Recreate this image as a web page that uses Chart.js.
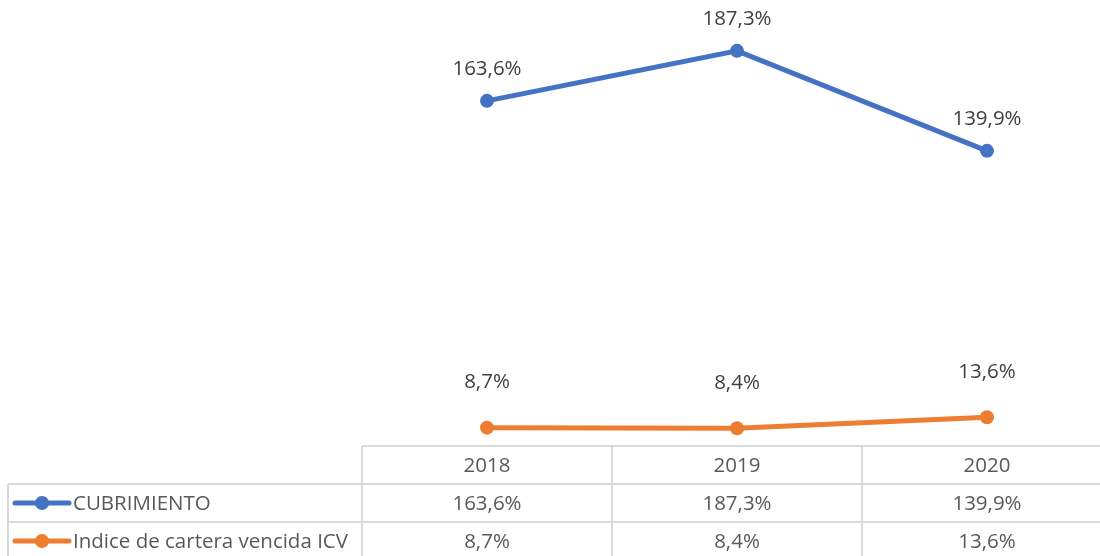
<!DOCTYPE html>
<html>
<head>
<meta charset="utf-8">
<script src="https://cdn.jsdelivr.net/npm/chart.js@4"></script>
<style>
  html, body { margin: 0; padding: 0; background: #fff; overflow: hidden; }
  #wrap { width: 1100px; height: 556px; position: relative; overflow: hidden; }
  #chart { position: absolute; left: 0; top: -8px; }
</style>
</head>
<body>
<div id="wrap"><canvas id="chart" width="1120" height="564"></canvas></div>
<script>
const years = ['2018', '2019', '2020'];
const cubrimiento = [163.6, 187.3, 139.9];
const icv = [8.7, 8.4, 13.6];
const seriesNames = ['CUBRIMIENTO', 'Indice de cartera vencida ICV'];

function fmt(v) {
    return v.toFixed(1).replace('.', ',') + '%';
}

// data labels above points + data table under the plot
const tablePlugin = {
    id: 'tablePlugin',
    afterDatasetsDraw(chart) {
        const ctx = chart.ctx;
        const x = chart.scales.x;
        const area = chart.chartArea;
        ctx.save();
        ctx.font = '20.5px "Open Sans"';
        ctx.textAlign = 'center';
        ctx.textBaseline = 'middle';
        ctx.fillStyle = '#404040';
        chart.data.datasets.forEach((ds, i) => {
            const meta = chart.getDatasetMeta(i);
            meta.data.forEach((pt, j) => {
                ctx.fillText(fmt(ds.data[j]), pt.x, pt.y - ds.labelOffset);
            });
        });

        // table
        const top = area.bottom;
        const rowH = 38;
        const colW = x.getPixelForValue(1) - x.getPixelForValue(0);
        const left = x.getPixelForValue(0) - colW / 2;
        const right = x.getPixelForValue(2) + colW / 2;
        const tableLeft = 8;
        ctx.strokeStyle = '#d9d9d9';
        ctx.lineWidth = 2;
        ctx.beginPath();
        ctx.moveTo(left, top); ctx.lineTo(right, top);
        for (let r = 1; r <= 3; r++) {
            ctx.moveTo(tableLeft, top + rowH * r); ctx.lineTo(right, top + rowH * r);
        }
        for (let c = 0; c <= 3; c++) {
            ctx.moveTo(left + colW * c, top); ctx.lineTo(left + colW * c, top + rowH * 3);
        }
        ctx.moveTo(tableLeft, top + rowH); ctx.lineTo(tableLeft, top + rowH * 3);
        ctx.stroke();

        ctx.fillStyle = '#595959';
        years.forEach((y, j) => {
            ctx.fillText(y, x.getPixelForValue(j), top + rowH / 2 + 1);
        });
        chart.data.datasets.forEach((ds, i) => {
            const cy = top + rowH * (i + 1) + rowH / 2 + 1;
            ds.data.forEach((v, j) => {
                ctx.fillStyle = '#595959';
                ctx.textAlign = 'center';
                ctx.fillText(fmt(v), x.getPixelForValue(j), cy);
            });
            // legend key
            ctx.strokeStyle = ds.borderColor;
            ctx.lineWidth = 5;
            ctx.lineCap = 'round';
            ctx.beginPath();
            ctx.moveTo(15, cy - 1); ctx.lineTo(69, cy - 1);
            ctx.stroke();
            ctx.fillStyle = ds.borderColor;
            ctx.beginPath();
            ctx.arc(42, cy - 1, 7, 0, Math.PI * 2);
            ctx.fill();
            ctx.fillStyle = '#595959';
            ctx.textAlign = 'left';
            ctx.fillText(ds.label, 73, cy);
        });
        ctx.restore();
    }
};

new Chart(document.getElementById('chart').getContext('2d'), {
    type: 'line',
    data: {
        labels: years,
        datasets: [{
            label: seriesNames[0],
            data: cubrimiento,
            borderColor: '#4472C4',
            backgroundColor: '#4472C4',
            borderWidth: 5,
            pointRadius: 7,
            pointBorderWidth: 0,
            labelOffset: 32
        }, {
            label: seriesNames[1],
            data: icv,
            borderColor: '#ED7D31',
            backgroundColor: '#ED7D31',
            borderWidth: 5,
            pointRadius: 7,
            pointBorderWidth: 0,
            labelOffset: 45
        }]
    },
    options: {
        responsive: false,
        animation: false,
        // top/right padding sits above the line overflow minimum; canvas is shifted by it
        layout: { padding: { left: 362, top: 8, right: 8, bottom: 110 } },
        plugins: { legend: { display: false }, tooltip: { enabled: false } },
        scales: {
            x: { display: false, offset: true },
            y: { display: false, min: 0, max: 211.4 }
        }
    },
    plugins: [tablePlugin]
});
</script>
</body>
</html>
